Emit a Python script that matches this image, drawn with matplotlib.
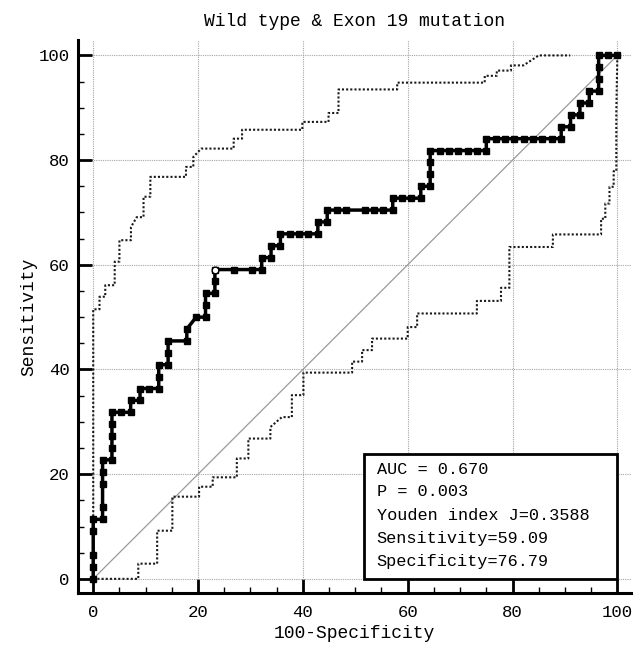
import matplotlib
matplotlib.use('Agg')
import matplotlib.pyplot as plt
from matplotlib.patches import Rectangle
from matplotlib.ticker import MultipleLocator

plt.rcParams['font.family'] = ['Liberation Mono', 'DejaVu Sans Mono']

# ROC curve: (false positives, true positives) counts, 56 negatives / 44 positives
n_neg = 56
n_pos = 44
roc_steps = [(0, 0), (0, 1), (0, 2), (0, 4), (0, 5),
             (1, 5), (1, 6), (1, 8), (1, 9), (1, 10),
             (2, 10), (2, 11), (2, 12), (2, 13), (2, 14),
             (3, 14), (4, 14), (4, 15), (5, 15), (5, 16), (6, 16), (7, 16), (7, 17), (7, 18),
             (8, 18), (8, 19), (8, 20), (10, 20), (10, 21), (11, 22), (12, 22), (12, 23), (12, 24),
             (13, 24), (13, 25), (13, 26), (15, 26), (17, 26), (18, 26), (18, 27), (19, 27),
             (19, 28), (20, 28), (20, 29), (21, 29), (22, 29), (23, 29), (24, 29), (24, 30),
             (25, 30), (25, 31), (26, 31), (27, 31), (29, 31), (30, 31), (31, 31), (32, 31),
             (32, 32), (33, 32), (34, 32), (35, 32), (35, 33), (36, 33), (36, 34), (36, 35), (36, 36),
             (37, 36), (38, 36), (39, 36), (40, 36), (41, 36), (42, 36), (42, 37),
             (43, 37), (44, 37), (45, 37), (46, 37), (47, 37), (48, 37), (49, 37), (50, 37),
             (50, 38), (51, 38), (51, 39), (52, 39), (52, 40), (53, 40), (53, 41), (54, 41),
             (54, 42), (54, 43), (54, 44), (55, 44), (56, 44)]
youden_fp = 13
youden_tp = 26

# 95% confidence bounds (percent)
upper_x = [0, 0, 1.2, 1.2, 2.3, 2.3, 4.1, 4.1, 5.0, 5.0, 7.2, 7.2, 8.3, 9.6, 9.6, 10.9, 10.9,
           17.7, 17.7, 19.1, 19.1, 20.6, 26.8, 26.8, 28.4, 28.4, 39.9, 39.9, 44.9, 44.9,
           46.8, 46.8, 58.0, 58.0, 74.7, 74.7, 77.0, 77.0, 79.7, 79.7, 82.1, 85.0, 91.0]
upper_y = [0, 51.5, 51.5, 53.9, 53.9, 56.1, 56.1, 60.6, 60.6, 64.7, 64.7, 67.2, 69.1, 69.1, 73.0,
           73.0, 76.8, 76.8, 78.7, 78.7, 80.6, 82.2, 82.2, 84.1, 84.1, 85.8, 85.8, 87.3, 87.3,
           89.0, 89.0, 93.5, 93.5, 94.8, 94.8, 96.1, 96.1, 97.1, 97.1, 98.1, 98.1, 100, 100]
lower_x = [0, 8.6, 8.6, 12.2, 12.2, 15.1, 15.1, 20.2, 20.2, 22.8, 22.8, 27.4, 27.4, 29.6, 29.6,
           33.8, 33.8, 36.0, 37.9, 37.9, 40.1, 40.1, 49.4, 49.4, 51.3, 51.3, 53.2, 53.2, 60.0,
           60.0, 61.8, 61.8, 73.2, 73.2, 77.8, 77.8, 79.4, 79.4, 87.7, 87.7, 96.9, 96.9, 97.7,
           97.7, 98.5, 98.5, 99.3, 99.3, 99.8, 99.8, 100]
lower_y = [0, 0, 2.9, 2.9, 9.2, 9.2, 15.7, 15.7, 17.6, 17.6, 19.4, 19.4, 23.0, 23.0, 26.8,
           26.8, 29.0, 30.9, 30.9, 35.1, 35.1, 39.4, 39.4, 41.5, 41.5, 43.7, 43.7, 45.9, 45.9,
           48.1, 48.1, 50.7, 50.7, 53.1, 53.1, 55.6, 55.6, 63.4, 63.4, 65.8, 65.8, 68.8, 68.8,
           71.7, 71.7, 74.9, 74.9, 77.9, 77.9, 89.2, 100]

stats_lines = ['AUC = 0.670', 'P = 0.003', 'Youden index J=0.3588',
               'Sensitivity=59.09', 'Specificity=76.79']

fpr = [100 * fp / n_neg for fp, tp in roc_steps]
tpr = [100 * tp / n_pos for fp, tp in roc_steps]

fig = plt.figure(figsize=(6.4, 6.48), dpi=100)
ax = fig.add_axes([0.1219, 0.0849, 0.864, 0.853])

ax.set_xlim(-2.9, 102.6)
ax.set_ylim(-2.7, 102.9)

# grid
ax.xaxis.set_major_locator(MultipleLocator(20))
ax.yaxis.set_major_locator(MultipleLocator(20))
ax.xaxis.set_minor_locator(MultipleLocator(5))
ax.yaxis.set_minor_locator(MultipleLocator(5))
ax.grid(True, which='major', color='#a5a5a5', linestyle=(0, (1, 1)), linewidth=0.8)
ax.set_axisbelow(True)

# diagonal
ax.plot([0, 100], [0, 100], color='#9a9a9a', linewidth=0.9)

# confidence bounds
ax.plot(upper_x, upper_y, color='#1a1a1a', linestyle=(0, (1, 1)), linewidth=1.5)
ax.plot(lower_x, lower_y, color='#1a1a1a', linestyle=(0, (1, 1)), linewidth=1.5)

# ROC curve
ax.plot(fpr, tpr, color='black', linewidth=2.5, marker='s', markersize=5)
ax.plot([100 * youden_fp / n_neg], [100 * youden_tp / n_pos], marker='o', markersize=4.8,
        markerfacecolor='white', markeredgecolor='black', markeredgewidth=1.0,
        linestyle='none', zorder=5)

# stats box
ax.add_patch(Rectangle((51.6, 0), 48.4, 23.9, facecolor='white', edgecolor='black',
                       linewidth=2.0, zorder=6))
text_y = [20.9, 16.7, 12.1, 7.8, 3.3]
for line, yy in zip(stats_lines, text_y):
    ax.text(54.1, yy, line, fontsize=12.2, va='center', ha='left', zorder=7)

# spines and ticks
for side in ['top', 'right']:
    ax.spines[side].set_visible(False)
for side in ['left', 'bottom']:
    ax.spines[side].set_linewidth(2.2)
ax.tick_params(which='major', direction='in', length=10, width=2.0, labelsize=12.5)
ax.tick_params(axis='x', which='major', pad=9)
ax.tick_params(axis='y', which='major', pad=6)
ax.tick_params(which='minor', direction='in', length=4, width=1.0)

ax.set_xlabel('100-Specificity', fontsize=13, labelpad=3)
ax.set_ylabel('Sensitivity', fontsize=13, labelpad=1)
ax.set_title('Wild type & Exon 19 mutation', fontsize=13, pad=10)

fig.savefig('out.png', dpi=100)
